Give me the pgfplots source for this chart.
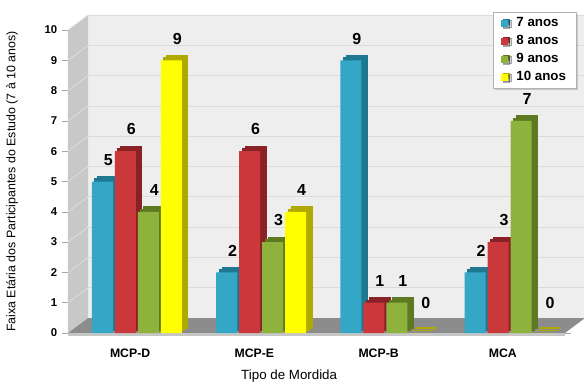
\documentclass[border=0pt]{standalone}
\usepackage{pgfplots}
\pgfplotsset{compat=1.18}
\usepackage{pgfplotstable}
\usepackage{fontspec}
\setmainfont{Liberation Sans}
\usetikzlibrary{shadows}

\definecolor{c7}{HTML}{34A7C7}
\definecolor{c7d}{HTML}{1F7892}
\definecolor{c8}{HTML}{CB383C}
\definecolor{c8d}{HTML}{8A2125}
\definecolor{c9}{HTML}{8FB23C}
\definecolor{c9d}{HTML}{5D7A22}
\definecolor{c10}{HTML}{FFFF00}
\definecolor{c10d}{HTML}{B0AA00}
\definecolor{wall}{HTML}{EEEEEE}
\definecolor{sidewall}{HTML}{C8C8C8}
\definecolor{floor}{HTML}{8C8C8C}

% idade (anos) por tipo de mordida
\pgfplotstableread{
cat a7 a8 a9 a10
0   5  6  4  9
1   2  6  3  4
2   9  1  1  0
3   2  3  7  0
}\dados

\tikzset{
  bar3d/.style 2 args={fill=#1, draw=none,
    preaction={fill=#2, draw=#2, line width=0.8pt, transform canvas={shift={(4.5pt,3.75pt)}}},
    preaction={fill=#2, draw=#2, line width=0.8pt, transform canvas={shift={(2.25pt,1.9pt)}}}},
  depth/.style={shift={(15pt,11.25pt)}},
}

\newcommand{\legbox}[2]{%
  \path[draw=none, fill=#2] (1.2pt,-1.6pt) rectangle (6.2pt,3.4pt);
  \path[draw=none, fill=#1] (0pt,-2.6pt) rectangle (5pt,2.4pt);}

\begin{document}
\begin{tikzpicture}
\begin{axis}[
  anchor=south west, at={(0,0)},
  width=372.75pt, height=227.25pt, scale only axis,
  xmin=-0.5, xmax=3.5, ymin=0, ymax=10,
  clip=false, set layers,
  axis line style={draw=none},
  ybar=1.5pt, bar width=15.75pt,
  xtick={0,1,2,3}, xticklabels={MCP-D,MCP-E,MCP-B,MCA},
  ytick={0,...,10},
  tick align=outside, major tick length=4.5pt,
  x tick style={draw=none},
  y tick style={gray!70, line width=0.4pt},
  /pgf/number format/assume math mode=true,
  ticklabel style={font=\bfseries\fontsize{8.5}{10}\selectfont},
  xticklabel style={yshift=-4pt, font=\bfseries\fontsize{9.2}{10}\selectfont},
  xlabel={Tipo de Mordida},
  xlabel style={font=\fontsize{10}{12}\selectfont, at={(axis description cs:0.445,0)}, anchor=center, yshift=-32pt},
  ylabel={Faixa Etária dos Participantes do Estudo (7 à 10 anos)},
  ylabel style={font=\fontsize{9.3}{11}\selectfont, at={(axis description cs:-0.1127,0.5)}, anchor=center},
  every axis plot/.append style={xshift=5pt},
  nodes near coords,
  visualization depends on={y \as \rawy},
  every node near coord/.append style={text=black, font=\bfseries\fontsize{12}{13}\selectfont,
    xshift=4.5pt, yshift={ifthenelse(\rawy<0.5,15pt,8.5pt)}},
  legend style={at={(1,1)}, anchor=north east, xshift=9pt, yshift=13.5pt,
    draw=gray!60, fill=white, font=\bfseries\fontsize{10}{12}\selectfont,
    row sep=1pt, inner ysep=2pt, inner xsep=6pt, cells={anchor=west},
    drop shadow={shadow xshift=1.2pt, shadow yshift=-1.2pt, opacity=0.35}},
]
% paredes, piso e grade
\fill[wall, on layer=axis background] ([depth]axis cs:-0.5,0) rectangle ([depth]axis cs:3.5,10);
\fill[sidewall, on layer=axis background] (axis cs:-0.5,0) -- (axis cs:-0.5,10)
  -- ([depth]axis cs:-0.5,10) -- ([depth]axis cs:-0.5,0) -- cycle;
\pgfplotsinvokeforeach{1,...,10}{
  \draw[gray!28, line width=0.5pt, on layer=axis background] ([depth]axis cs:-0.5,#1) -- ([depth]axis cs:3.5,#1);
  \draw[white!80!gray, line width=0.4pt, on layer=axis background] (axis cs:-0.5,#1) -- ([depth]axis cs:-0.5,#1);
}
\fill[floor, on layer=axis background] (axis cs:-0.5,0) -- (axis cs:3.5,0)
  -- ([depth]axis cs:3.5,0) -- ([depth]axis cs:-0.5,0) -- cycle;
\fill[gray!45, on layer=axis background] (axis cs:-0.5,0) -- (axis cs:3.5,0)
  -- ([yshift=-2pt]axis cs:3.5,0) -- ([yshift=-2pt]axis cs:-0.5,0) -- cycle;

% legenda
\addlegendimage{legend image code/.code={\legbox{c7}{c7d}}}
\addlegendimage{legend image code/.code={\legbox{c8}{c8d}}}
\addlegendimage{legend image code/.code={\legbox{c9}{c9d}}}
\addlegendimage{legend image code/.code={\legbox{c10}{c10d}}}

\addplot[bar3d={c7}{c7d}] table[x=cat, y=a7] {\dados};
\addplot[bar3d={c8}{c8d}] table[x=cat, y=a8] {\dados};
\addplot[bar3d={c9}{c9d}] table[x=cat, y=a9] {\dados};
\addplot[bar3d={c10}{c10d}] table[x=cat, y=a10] {\dados};
\legend{\hspace{3pt}7 anos, \hspace{3pt}8 anos, \hspace{3pt}9 anos, \hspace{3pt}10 anos}
\end{axis}
\pgfresetboundingbox
\useasboundingbox (-51pt,-36.75pt) rectangle (387pt,249.75pt);
\end{tikzpicture}
\end{document}
